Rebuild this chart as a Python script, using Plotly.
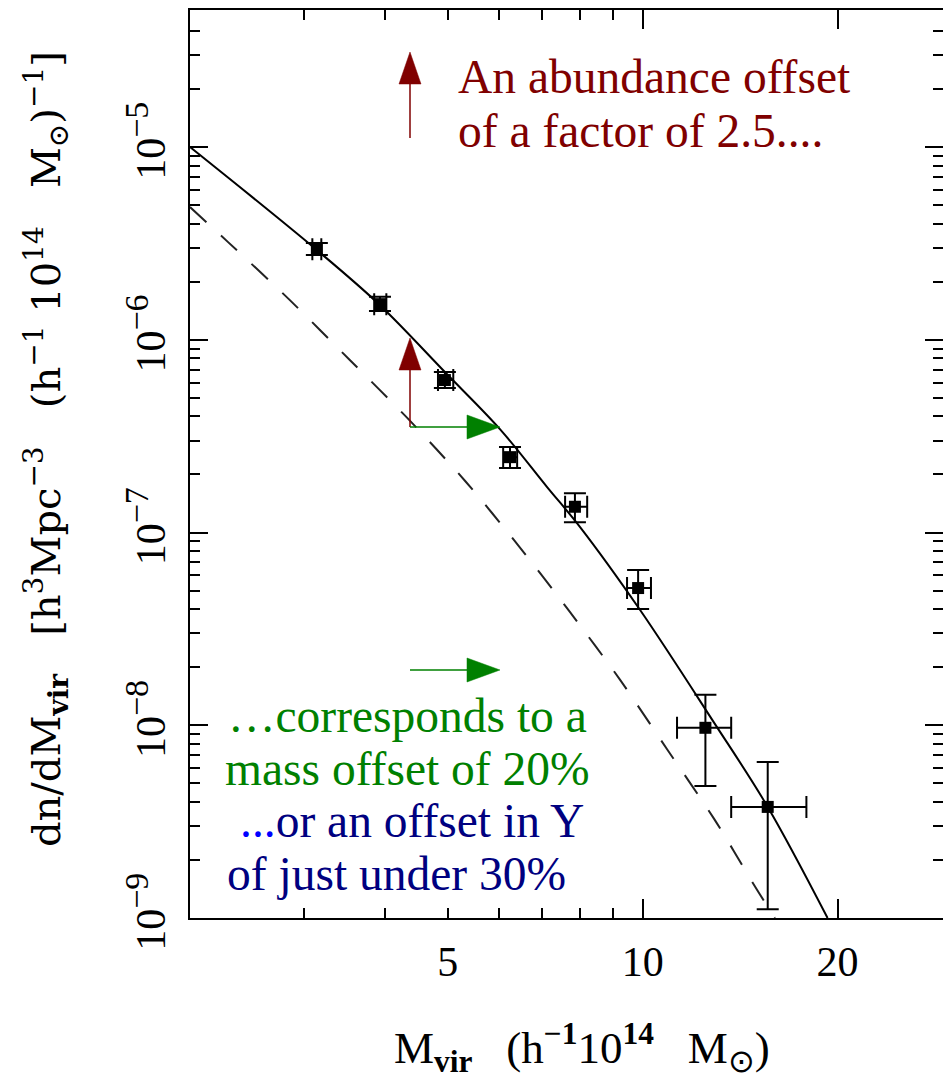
import math
import plotly.graph_objects as go

# ---------------- data ----------------
M_DATA = [3.14, 3.93, 4.95, 6.24, 7.86, 9.84, 12.5, 15.6]
N_DATA = [2.95e-6, 1.53e-6, 6.18e-7, 2.46e-7, 1.36e-7, 5.15e-8, 9.7e-9, 3.77e-9]
M_LO = [3.09, 3.85, 4.83, 6.09, 7.59, 9.46, 11.3, 13.7]
M_HI = [3.19, 4.02, 5.10, 6.40, 8.21, 10.3, 13.7, 17.9]
N_LO = [2.75e-6, 1.41e-6, 5.62e-7, 2.16e-7, 1.13e-7, 4.01e-8, 4.84e-9, 1.11e-9]
N_HI = [3.18e-6, 1.67e-6, 6.80e-7, 2.78e-7, 1.60e-7, 6.39e-8, 1.44e-8, 6.45e-9]

FIT_M = [2.0, 3.14, 3.93, 4.95, 6.02, 7.12, 8.0, 9.91, 12.8, 15.6, 19.3]
FIT_N = [1.0e-5, 2.92e-6, 1.51e-6, 6.80e-7, 3.44e-7, 1.72e-7, 1.07e-7, 3.96e-8,
         1.07e-8, 3.77e-9, 1.0e-9]

DASH_M = [2.0, 2.29, 2.85, 3.53, 4.33, 5.32, 6.42, 7.72, 9.23, 10.9, 12.9, 15.0, 16.0]
DASH_N = [4.88e-6, 3.21e-6, 1.61e-6, 7.85e-7, 3.93e-7, 1.85e-7, 8.61e-8, 3.87e-8,
          1.72e-8, 7.53e-9, 3.26e-9, 1.41e-9, 1.0e-9]

X_TICKS = [5, 10, 20]
X_TICKTEXT = ["5", "10", "20"]
X_LONG_TICKS = [10, 20]
X_MINOR = [3, 4, 6, 7, 8, 9]
Y_TICKS = [1e-9, 1e-8, 1e-7, 1e-6, 1e-5]
Y_TICKTEXT = ["10<sup><span style='font-size:34px'>\u22129</span></sup>",
              "10<sup><span style='font-size:34px'>\u22128</span></sup>",
              "10<sup><span style='font-size:34px'>\u22127</span></sup>",
              "10<sup><span style='font-size:34px'>\u22126</span></sup>",
              "10<sup><span style='font-size:34px'>\u22125</span></sup>"]
Y_MINOR = [k * 10.0 ** e for e in range(-9, -4) for k in range(2, 10) if k * 10.0 ** e < 5e-5]

# ---------------- layout geometry ----------------
W, H = 943, 1074
L, R, T, B = 190, 0, 10, 156
PW, PH = W - L - R, H - T - B
X_RANGE = [math.log10(2.0), math.log10(2.0) + PW / 647.6]
Y_RANGE = [-9.0, -9.0 + PH / 192.75]


def px(p):
    return (p - L) / PW


def py(p):
    return (H - B - p) / PH


fig = go.Figure()

fig.add_trace(go.Scatter(x=FIT_M, y=FIT_N, mode="lines",
                         line=dict(color="black", width=2, shape="spline", smoothing=1.0),
                         showlegend=False, hoverinfo="skip"))
fig.add_trace(go.Scatter(x=DASH_M, y=DASH_N, mode="lines",
                         line=dict(color="#222222", width=2, dash="22px,20px", shape="spline", smoothing=0.8),
                         showlegend=False, hoverinfo="skip"))
fig.add_trace(go.Scatter(
    x=M_DATA, y=N_DATA, mode="markers",
    marker=dict(symbol="square", size=12, color="black"),
    error_y=dict(type="data", symmetric=False,
                 array=[h - v for h, v in zip(N_HI, N_DATA)],
                 arrayminus=[v - l for l, v in zip(N_LO, N_DATA)],
                 width=11, thickness=2, color="black"),
    error_x=dict(type="data", symmetric=False,
                 array=[h - v for h, v in zip(M_HI, M_DATA)],
                 arrayminus=[v - l for l, v in zip(M_LO, M_DATA)],
                 width=11, thickness=2, color="black"),
    showlegend=False, hoverinfo="skip"))
# invisible trace to activate the overlay axes (long x ticks / right y ticks)
fig.add_trace(go.Scatter(x=[M_DATA[0]], y=[N_DATA[0]], mode="markers", marker=dict(opacity=0),
                         xaxis="x2", yaxis="y2", showlegend=False, hoverinfo="skip"))

tickfont = dict(family="Liberation Serif", size=42, color="black")
fig.update_layout(
    width=W, height=H, margin=dict(l=L, r=R, t=T, b=B, autoexpand=False),
    paper_bgcolor="white", plot_bgcolor="white", showlegend=False,
    xaxis=dict(type="log", range=X_RANGE, showline=True, linecolor="black", linewidth=2,
               mirror="ticks", ticks="inside", ticklen=10, tickwidth=2, tickcolor="black",
               tickmode="array", tickvals=X_TICKS, ticktext=X_TICKTEXT, tickfont=tickfont,
               ticklabelstandoff=6,
               showgrid=False, zeroline=False,
               minor=dict(tickmode="array", tickvals=X_MINOR, ticks="inside", ticklen=10,
                          tickwidth=2, tickcolor="black", showgrid=False)),
    xaxis2=dict(type="log", range=X_RANGE, overlaying="x", side="bottom", anchor="y2",
                tickmode="array", tickvals=X_LONG_TICKS, ticks="inside", ticklen=19, tickwidth=2,
                tickcolor="black", showticklabels=False, mirror="ticks", showline=False,
                showgrid=False, zeroline=False),
    yaxis=dict(type="log", range=Y_RANGE, showline=True, linecolor="black", linewidth=2,
               mirror=False, ticks="inside", ticklen=18, tickwidth=2, tickcolor="black",
               tickmode="array", tickvals=Y_TICKS, ticktext=Y_TICKTEXT, tickfont=tickfont,
               tickangle=-90, ticklabelstandoff=6,
               showgrid=False, zeroline=False,
               minor=dict(tickmode="array", tickvals=Y_MINOR, ticks="inside", ticklen=10,
                          tickwidth=2, tickcolor="black", showgrid=False)),
    yaxis2=dict(type="log", range=Y_RANGE, overlaying="y", side="right", anchor="x2",
                tickmode="array", tickvals=Y_TICKS, ticks="inside", ticklen=18, tickwidth=2,
                tickcolor="black", showticklabels=False, showline=False, showgrid=False,
                zeroline=False,
                minor=dict(tickmode="array", tickvals=Y_MINOR, ticks="inside", ticklen=10,
                           tickwidth=2, tickcolor="black", showgrid=False)),
)

RED = "#800000"
GREEN = "#008000"
NAVY = "#000080"
BLUE = "#0000FF"

shapes = []


def arrow(x0, y0, x1, y1, color, head_len=32, head_half=11):
    # shaft + filled triangle head, in paper coordinates derived from pixels
    dx, dy = x1 - x0, y1 - y0
    d = math.hypot(dx, dy)
    ux, uy = dx / d, dy / d
    bx, by = x1 - ux * head_len, y1 - uy * head_len
    shapes.append(dict(type="line", xref="paper", yref="paper",
                       x0=px(x0), y0=py(y0), x1=px(bx + ux * 2), y1=py(by + uy * 2),
                       line=dict(color=color, width=1.5)))
    p1 = (bx - uy * head_half, by + ux * head_half)
    p2 = (bx + uy * head_half, by - ux * head_half)
    path = "M {:.5f},{:.5f} L {:.5f},{:.5f} L {:.5f},{:.5f} Z".format(
        px(x1), py(y1), px(p1[0]), py(p1[1]), px(p2[0]), py(p2[1]))
    shapes.append(dict(type="path", xref="paper", yref="paper", path=path,
                       fillcolor=color, line=dict(color=color, width=0.5)))


arrow(410, 138, 410, 52, RED)
arrow(410, 427, 410, 338, RED)
arrow(410, 427, 500, 427, GREEN, head_len=33, head_half=12)
arrow(410, 670, 500, 670, GREEN, head_len=33, head_half=12)
fig.update_layout(shapes=shapes)

annfont = "Liberation Serif"
notes = [
    ("An abundance offset", 457, 77, RED),
    ("of a factor of 2.5....", 457, 131, RED),
    ("\u2026corresponds to a", 227, 716, GREEN),
    ("mass offset of 20%", 224, 769, GREEN),
    ("<span style='color:%s'>...</span>or an offset in Y" % BLUE, 239, 821, NAVY),
    ("of just under 30%", 226, 874, NAVY),
]
for txt, x, y, c in notes:
    fig.add_annotation(text=txt, xref="paper", yref="paper", x=px(x), y=py(y),
                       xanchor="left", yanchor="middle", showarrow=False, borderpad=0,
                       font=dict(family=annfont, size=47.5, color=c))

# axis titles
SP = "\u00a0\u00a0 "
fig.add_annotation(
    text=("dn/dM<sub><b>vir</b></sub>" + SP + "[h<sup>3</sup>Mpc<sup>\u22123</sup>" + SP +
          "(h<sup>\u22121</sup>\u00a010<sup>14</sup>" + SP + "M<sub>\u2299</sub>)<sup>\u22121</sup>]"),
    xref="paper", yref="paper", x=px(46), y=py(449), xanchor="center", yanchor="middle",
    textangle=-90, showarrow=False, borderpad=0,
    font=dict(family="DejaVu Serif", size=40, color="black"))
fig.add_annotation(
    text=("M<sub><b>vir</b></sub>" + SP + "(h<sup><b>\u22121</b></sup>10<sup><b>14</b></sup>" + SP +
          "M<sub>\u2299</sub>)"),
    xref="paper", yref="paper", x=px(582), y=py(1047), xanchor="center", yanchor="middle",
    showarrow=False, borderpad=0,
    font=dict(family="Liberation Serif", size=45, color="black"))

fig.write_html("out.html")
